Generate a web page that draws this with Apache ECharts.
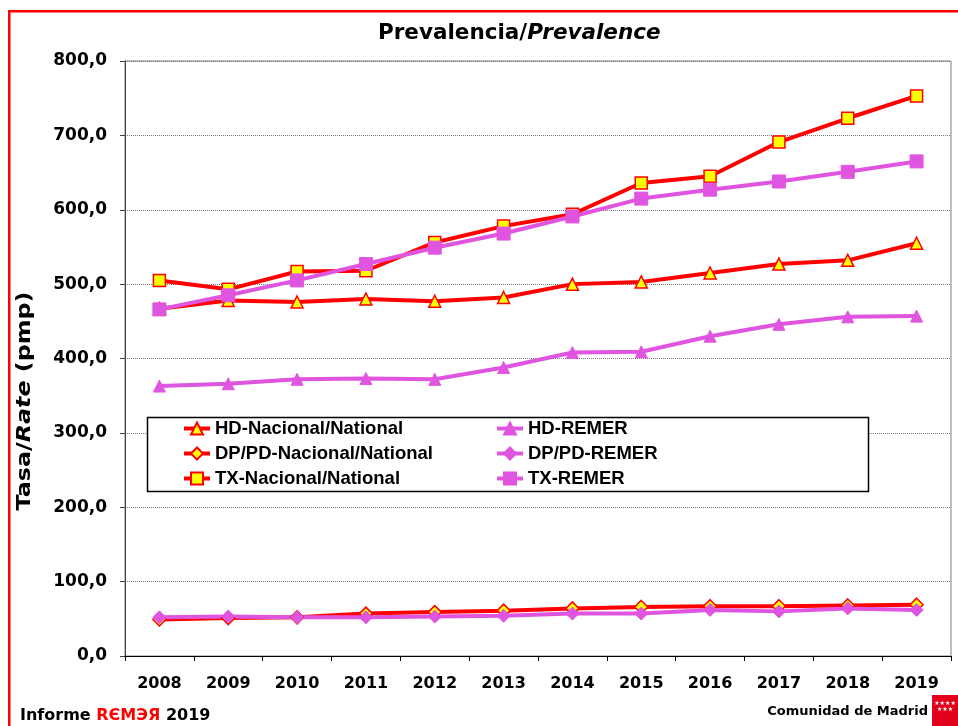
<!DOCTYPE html>
<html>
<head>
<meta charset="utf-8">
<script src="https://cdn.jsdelivr.net/npm/echarts@6/dist/echarts.min.js"></script>
<style>
html,body{margin:0;padding:0;background:#fff;}
#chart{width:958px;height:726px;}
</style>
</head>
<body>
<div id="chart"></div>
<script>
var years = ['2008','2009','2010','2011','2012','2013','2014','2015','2016','2017','2018','2019'];
var hdNac   = [467, 478, 476, 480, 477, 482, 500, 503, 515, 527, 532, 555];
var hdRemer = [363, 366, 372, 373, 372, 388, 408, 409, 430, 446, 456, 457];
var dpNac   = [49, 51, 52, 57, 59, 61, 64, 66, 67, 67, 68, 69];
var dpRemer = [52, 53, 52, 52, 53, 54, 57, 57, 62, 60, 64, 62];
var txNac   = [505, 493, 517, 518, 556, 578, 594, 636, 645, 691, 723, 753];
var txRemer = [466, 485, 505, 527, 549, 568, 591, 615, 627, 638, 651, 665];
var seriesNames = ['HD-Nacional/National','HD-REMER','DP/PD-Nacional/National','DP/PD-REMER','TX-Nacional/National','TX-REMER'];

var RED = '#ff0000', MAG = '#e055e0', YEL = '#ffff00';
var WIDE = 'DejaVu Sans', ARIAL = 'Liberation Sans';

function nac(name, data, symbol, size) {
  return {
    name: name, type: 'line', data: data, symbol: symbol, symbolSize: size,
    lineStyle: {color: RED, width: 4},
    itemStyle: {color: YEL, borderColor: RED, borderWidth: 1.5},
    emphasis: {disabled: true}, animation: false
  };
}
function rem(name, data, symbol, size) {
  return {
    name: name, type: 'line', data: data, symbol: symbol, symbolSize: size,
    lineStyle: {color: MAG, width: 4},
    itemStyle: {color: MAG, borderColor: MAG, borderWidth: 1},
    emphasis: {disabled: true}, animation: false
  };
}

var chart = echarts.init(document.getElementById('chart'));
var legendText = {fontFamily: ARIAL, fontWeight: 'bold', fontSize: 18.5, color: '#000', lineHeight: 18};
var legendBase = {
  orient: 'vertical', top: 414, itemWidth: 26, itemHeight: 15, itemGap: 6,
  textStyle: legendText, selectedMode: false, z: 5,
  lineStyle: {width: 4}
};
chart.setOption({
  animation: false,
  backgroundColor: '#fff',
  title: {
    text: '{a|Prevalencia/}{b|Prevalence}',
    left: 373, top: 17,
    textStyle: {
      rich: {
        a: {fontFamily: WIDE, fontWeight: 'bold', fontSize: 21.5, color: '#000'},
        b: {fontFamily: WIDE, fontWeight: 'bold', fontStyle: 'italic', fontSize: 21.5, color: '#000'}
      }
    }
  },
  grid: {left: 125, right: 7, top: 61, bottom: 70, show: true, borderColor: '#808080', borderWidth: 1, backgroundColor: 'transparent'},
  legend: [
    Object.assign({}, legendBase, {data: [seriesNames[0], seriesNames[2], seriesNames[4]], left: 177}),
    Object.assign({}, legendBase, {data: [seriesNames[1], seriesNames[3], seriesNames[5]], left: 490})
  ],
  xAxis: {
    type: 'category', data: years, boundaryGap: true,
    axisLine: {lineStyle: {color: '#000', width: 1}},
    axisTick: {show: true, alignWithLabel: false, length: 5, lineStyle: {color: '#000'}},
    axisLabel: {fontFamily: WIDE, fontWeight: 'bold', fontSize: 16, color: '#000', margin: 20}
  },
  yAxis: {
    type: 'value', min: 0, max: 800, interval: 100,
    axisLine: {show: true, lineStyle: {color: '#404040', width: 1}},
    axisTick: {show: true, inside: false, length: 5, lineStyle: {color: '#404040'}},
    axisLabel: {
      fontFamily: WIDE, fontWeight: 'bold', fontSize: 17, color: '#000', margin: 18,
      formatter: function (v) { return v.toFixed(1).replace('.', ','); }
    },
    splitLine: {show: true, lineStyle: {color: '#777', width: 1, type: [1, 1]}}
  },
  series: [
    nac(seriesNames[0], hdNac, 'triangle', 12),
    rem(seriesNames[1], hdRemer, 'triangle', 12),
    nac(seriesNames[2], dpNac, 'diamond', 13),
    rem(seriesNames[3], dpRemer, 'diamond', 13),
    nac(seriesNames[4], txNac, 'rect', 12),
    rem(seriesNames[5], txRemer, 'rect', 13)
  ],
  graphic: [
    {type: 'rect', z: 1, shape: {x: 147.5, y: 417.5, width: 721, height: 74},
     style: {fill: '#fff', stroke: '#000', lineWidth: 1.5}},
    {type: 'rect', z: 10, shape: {x: 9.25, y: 11.25, width: 1000, height: 800},
     style: {fill: 'none', stroke: RED, lineWidth: 2.5}},
    {type: 'text', z: 10, x: 25, y: 401, rotation: Math.PI / 2, scaleX: 1.19, scaleY: 1,
     style: {
       text: '{a|Tasa/}{b|Rate}{a| (pmp)}', align: 'center', verticalAlign: 'middle',
       rich: {
         a: {fontFamily: WIDE, fontWeight: 'bold', fontSize: 20, fill: '#000'},
         b: {fontFamily: WIDE, fontWeight: 'bold', fontStyle: 'italic', fontSize: 20, fill: '#000'}
       }
     }},
    {type: 'text', z: 10, x: 20, y: 716,
     style: {
       text: '{a|Informe }{r|RЄMЭЯ}{a| 2019}', verticalAlign: 'middle',
       rich: {
         a: {fontFamily: WIDE, fontWeight: 'bold', fontSize: 16, fill: '#000'},
         r: {fontFamily: WIDE, fontWeight: 'bold', fontSize: 16, fill: RED}
       }
     }},
    {type: 'text', z: 10, x: 928, y: 712,
     style: {text: 'Comunidad de Madrid', align: 'right', verticalAlign: 'middle',
             font: 'bold 13px "DejaVu Sans"', fill: '#000'}},
    {type: 'rect', z: 10, shape: {x: 932, y: 695, width: 26, height: 31}, style: {fill: '#e2001a'}},
    {type: 'text', z: 11, x: 945, y: 706,
     style: {text: '★★★★\n★★★', align: 'center', verticalAlign: 'middle',
             font: 'bold 6px "DejaVu Sans"', fill: '#fff', lineHeight: 6}}
  ]
});
</script>
</body>
</html>
